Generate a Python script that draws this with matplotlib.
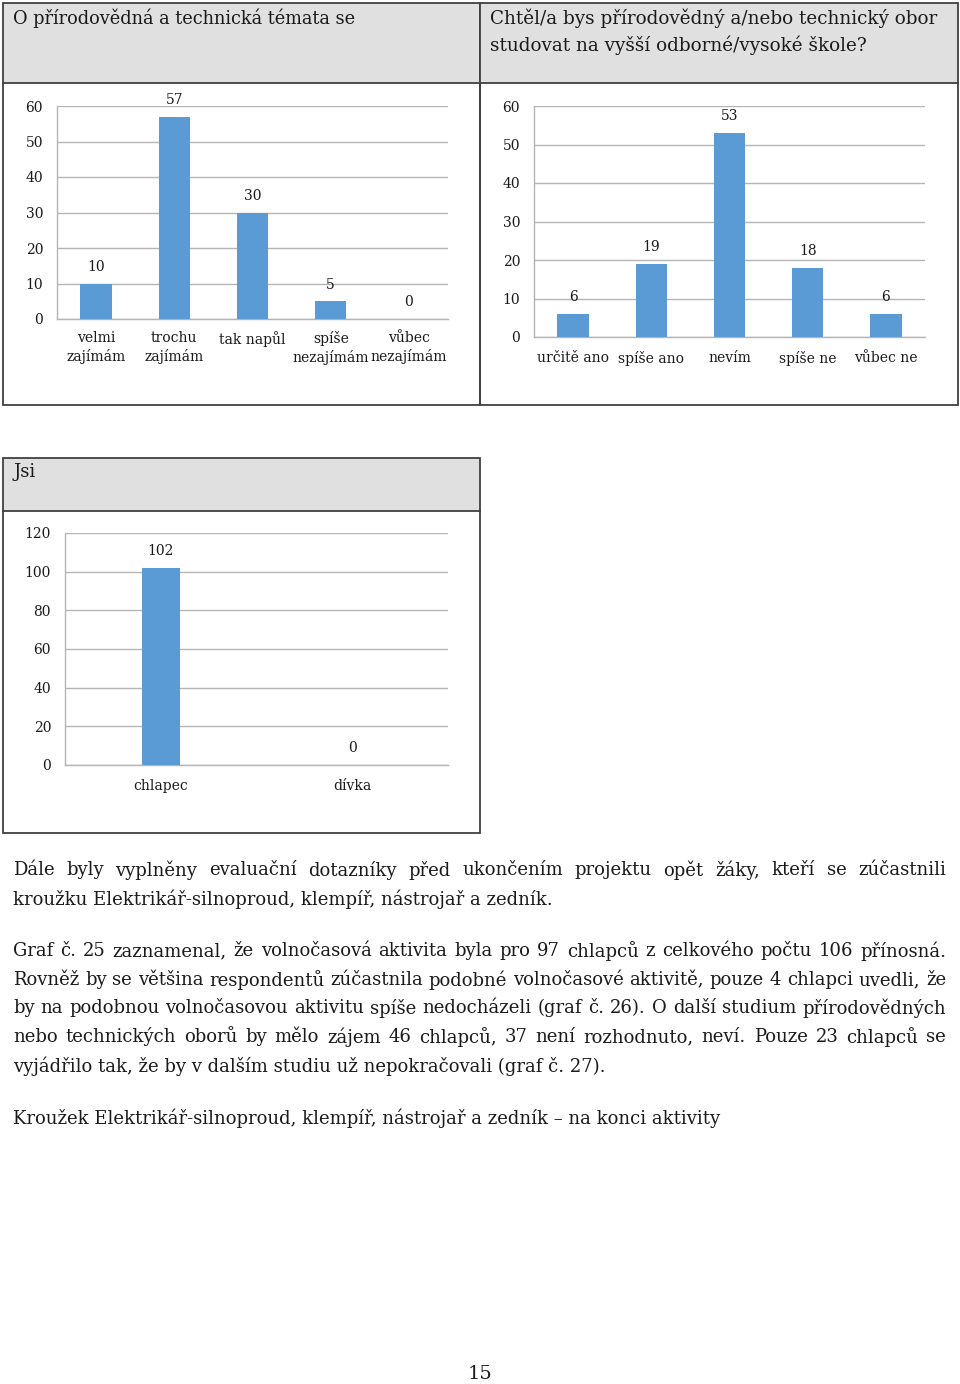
import matplotlib

matplotlib.use("Agg")
import matplotlib.pyplot as plt  # noqa: E402
from matplotlib.patches import Rectangle  # noqa: E402

# --- data ---
zajem_labels = ["velmi\nzajímám", "trochu\nzajímám", "tak napůl", "spíše\nnezajímám", "vůbec\nnezajímám"]
zajem_values = [10, 57, 30, 5, 0]

studium_labels = ["určitě ano", "spíše ano", "nevím", "spíše ne", "vůbec ne"]
studium_values = [6, 19, 53, 18, 6]

pohlavi_labels = ["chlapec", "dívka"]
pohlavi_values = [102, 0]

W, H = 960, 1384
SERIF = ["DejaVu Serif", "Liberation Serif"]
BAR = "#5b9bd5"
GRID = "#b5b5b5"
EDGE = "#404040"
HEAD = "#e0e0e0"
INK = "#1a1a1a"

plt.rcParams["font.family"] = SERIF

fig = plt.figure(figsize=(W / 100, H / 100), dpi=100)
fig.patch.set_facecolor("white")


def px_axes(x0, y0, x1, y1):
    """axes from pixel box (top-left origin)"""
    return fig.add_axes([x0 / W, 1 - y1 / H, (x1 - x0) / W, (y1 - y0) / H])


def panel(x0, y0, x1, y1, yh, title, size=13):
    fig.add_artist(Rectangle((x0 / W, 1 - yh / H), (x1 - x0) / W, (yh - y0) / H,
                             transform=fig.transFigure, facecolor=HEAD, edgecolor="none"))
    fig.add_artist(Rectangle((x0 / W, 1 - y1 / H), (x1 - x0) / W, (y1 - y0) / H,
                             transform=fig.transFigure, facecolor="none", edgecolor=EDGE, lw=1.3))
    fig.add_artist(plt.Line2D([x0 / W, x1 / W], [1 - yh / H, 1 - yh / H],
                              transform=fig.transFigure, color=EDGE, lw=1.3))
    fig.text((x0 + 10) / W, 1 - (y0 + 5) / H, title, fontsize=size, va="top", ha="left",
             linespacing=1.5, color=INK)


def bar_chart(ax, labels, values, ymax, step, width, pad_y, pad_x):
    x = range(len(values))
    ax.bar(x, values, width, color=BAR, zorder=3)
    for xi, v in zip(x, values):
        ax.annotate(str(v), (xi, v), xytext=(0, 7), textcoords="offset points",
                    ha="center", va="bottom", fontsize=10, color=INK)
    ax.set_xlim(-0.5, len(values) - 0.5)
    ax.set_ylim(0, ymax)
    ax.set_yticks(range(0, ymax + 1, step))
    ax.set_xticks(list(x))
    ax.set_xticklabels(labels, fontsize=9.7, linespacing=1.3)
    ax.tick_params(length=0, labelsize=10, colors=INK)
    ax.tick_params(axis="y", pad=pad_y)
    ax.tick_params(axis="x", pad=pad_x)
    ax.yaxis.grid(True, color=GRID, lw=1.0, zorder=0)
    for s in ("top", "right"):
        ax.spines[s].set_visible(False)
    for s in ("left", "bottom"):
        ax.spines[s].set_color(GRID)
        ax.spines[s].set_linewidth(1.0)
    ax.set_facecolor("none")


panel(3, 3, 480, 405, 83, "O přírodovědná a technická témata se", 12.8)
panel(480, 3, 958, 405, 83, "Chtěl/a bys přírodovědný a/nebo technický obor\nstudovat na vyšší odborné/vysoké škole?", 13.2)
panel(3, 458, 480, 833, 511, "Jsi")

ax1 = px_axes(57, 106, 448, 319)
bar_chart(ax1, zajem_labels, zajem_values, 60, 10, 0.4, 10, 9)

ax2 = px_axes(534, 106, 925, 337)
bar_chart(ax2, studium_labels, studium_values, 60, 10, 0.4, 10, 10)

ax3 = px_axes(65, 533, 448, 765)
bar_chart(ax3, pohlavi_labels, pohlavi_values, 120, 20, 0.2, 10, 10)

# --- body text ---
renderer = fig.canvas.get_renderer()
FS = 13
LEFT, RIGHT = 13, 946


def text_line(line, y, justify):
    if not justify:
        fig.text(LEFT / W, 1 - y / H, line, fontsize=FS, va="center", ha="left", color=INK)
        return
    words = line.split(" ")
    arts = [fig.text(0, 1 - y / H, w, fontsize=FS, va="center", ha="left", color=INK)
            for w in words]
    widths = [a.get_window_extent(renderer).width for a in arts]
    gap = (RIGHT - LEFT - sum(widths)) / (len(words) - 1)
    x = LEFT
    for a, w in zip(arts, widths):
        a.set_x(x / W)
        x += w + gap


body = [
    ("Dále byly vyplněny evaluační dotazníky před ukončením projektu opět žáky, kteří se zúčastnili", 870, True),
    ("kroužku Elektrikář-silnoproud, klempíř, nástrojař a zedník.", 899, False),
    ("Graf č. 25 zaznamenal, že volnočasová aktivita byla pro 97 chlapců z celkového počtu 106 přínosná.", 951, True),
    ("Rovněž by se většina respondentů zúčastnila podobné volnočasové aktivitě, pouze 4 chlapci uvedli, že", 980, True),
    ("by na podobnou volnočasovou aktivitu spíše nedocházeli (graf č. 26). O další studium přírodovědných", 1008, True),
    ("nebo technických oborů by mělo zájem 46 chlapců, 37 není rozhodnuto, neví. Pouze 23 chlapců se", 1037, True),
    ("vyjádřilo tak, že by v dalším studiu už nepokračovali (graf č. 27).", 1066, False),
    ("Kroužek Elektrikář-silnoproud, klempíř, nástrojař a zedník – na konci aktivity", 1118, False),
]
for line, y, just in body:
    text_line(line, y, just)

fig.text(480 / W, 1 - 1374 / H, "15", fontsize=14, ha="center", va="center", color=INK)

fig.savefig("out.png", dpi=100)
plt.close(fig)
